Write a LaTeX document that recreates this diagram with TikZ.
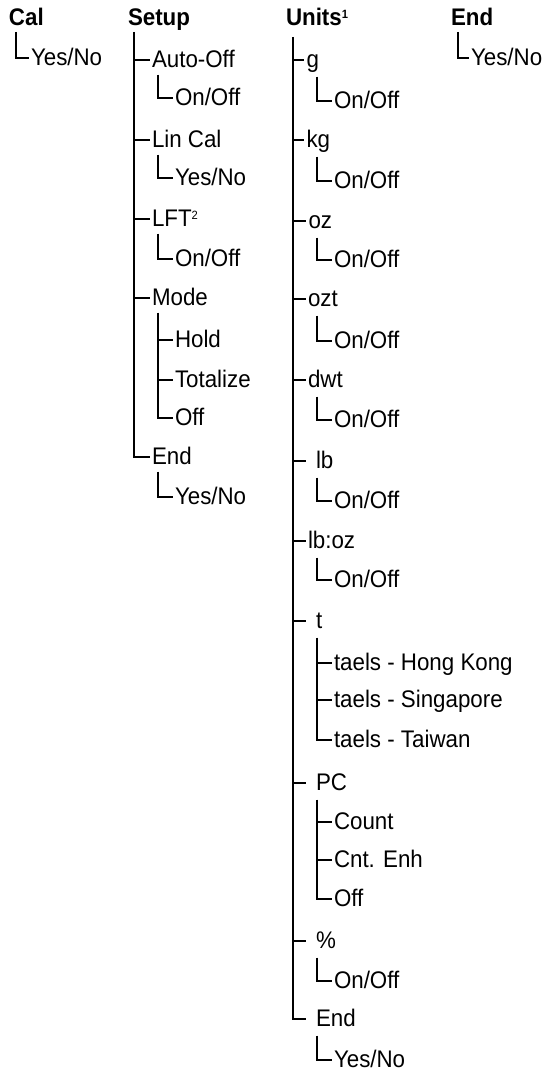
\documentclass[tikz,border=0pt]{standalone}
\usepackage{fontspec}
\setmainfont{Liberation Sans}[FakeStretch=0.93]
\usetikzlibrary{calc}
\newcommand{\supnum}[1]{\raisebox{7pt}{\fontsize{12}{12}\selectfont #1}}

\begin{document}
\begin{tikzpicture}[x=1pt, y=-1pt, line width=2pt,
    head/.style={anchor=base west, inner sep=0pt, font=\fontsize{24}{28}\selectfont\bfseries},
    item/.style={anchor=west, inner xsep=1.5pt, inner ysep=0pt,
        text height=16pt, text depth=1pt, font=\fontsize{24}{28}\selectfont},
    loose/.style={inner xsep=9pt}]
    \useasboundingbox (0,0) rectangle (548,1073);

    % headings
    \node[head] (cal) at (8,26) {Cal};
    \node[head] (setup) at (127,26) {Setup};
    \node[head] (units) at (285,26) {Units\supnum{1}};
    \node[head] (end) at (450,26) {End};

    % Cal
    \node[item] (calyn) at (28.5,58) {Yes/No};
    \draw (cal.base west) ++(8,6) |- (calyn.west);

    % Setup
    \coordinate (sbar) at (134,32);
    \coordinate (ssub) at (158,0);
    \node[item] (autooff) at (149.5,60) {Auto-Off};
    \node[item] (aoonoff) at (172.5,98) {On/Off};
    \node[item] (lincal) at (149.5,140) {Lin Cal};
    \node[item] (lcyn) at (172.5,178) {Yes/No};
    \node[item] (lft) at (149.5,219) {LFT\supnum{2}};
    \node[item] (lftonoff) at (172.5,259) {On/Off};
    \node[item] (mode) at (149.5,298) {Mode};
    \node[item] (hold) at (172.5,340) {Hold};
    \node[item] (totalize) at (172.5,380) {Totalize};
    \node[item] (modeoff) at (172.5,418) {Off};
    \node[item] (send) at (149.5,457) {End};
    \node[item] (sendyn) at (172.5,497) {Yes/No};

    \draw (sbar) |- (send.west);
    \foreach \n in {autooff,lincal,lft,mode}
        \draw (sbar |- \n.west) -- (\n.west);
    \foreach \p/\c in {autooff/aoonoff,lincal/lcyn,lft/lftonoff,mode/modeoff,send/sendyn}
        \draw (\p.base west -| ssub) ++(0,7) |- (\c.west);
    \foreach \n in {hold,totalize}
        \draw (ssub |- \n.west) -- (\n.west);

    % Units
    \coordinate (ubar) at (293,37);
    \coordinate (usub) at (317,0);
    \node[item] (g) at (304,60) {g};
    \node[item] (gonoff) at (331.5,101) {On/Off};
    \node[item] (kg) at (304,140) {kg};
    \node[item] (kgonoff) at (331.5,181) {On/Off};
    \node[item] (oz) at (306,221) {oz};
    \node[item] (ozonoff) at (331.5,260) {On/Off};
    \node[item] (ozt) at (305.5,299) {ozt};
    \node[item] (oztonoff) at (331.5,341) {On/Off};
    \node[item] (dwt) at (305.5,380) {dwt};
    \node[item] (dwtonoff) at (331.5,420) {On/Off};
    \node[item, loose] (lb) at (306,461) {lb};
    \node[item] (lbonoff) at (331.5,501) {On/Off};
    \node[item] (lboz) at (305.5,541) {lb:oz};
    \node[item] (lbozonoff) at (331.5,580) {On/Off};
    \node[item, loose] (t) at (306,621) {t};
    \node[item] (hk) at (331.5,663) {taels - Hong Kong};
    \node[item] (sg) at (331.5,700) {taels - Singapore};
    \node[item] (tw) at (331.5,740) {taels - Taiwan};
    \node[item, loose] (pc) at (306,783) {PC};
    \node[item] (count) at (331.5,822) {Count};
    \node[item] (cnt) at (331.5,860) {Cnt. Enh};
    \node[item] (pcoff) at (331.5,899) {Off};
    \node[item, loose] (pct) at (306,941) {\%};
    \node[item] (pctonoff) at (331.5,981) {On/Off};
    \node[item, loose] (uend) at (306,1019) {End};
    \node[item] (uendyn) at (331.5,1060) {Yes/No};

    \draw (ubar) |- (uend.west);
    \foreach \n in {g,kg,oz,ozt,dwt,lb,lboz,t,pc,pct}
        \draw (ubar |- \n.west) -- (\n.west);
    \foreach \p/\c in {g/gonoff,kg/kgonoff,oz/ozonoff,ozt/oztonoff,dwt/dwtonoff,
            lb/lbonoff,lboz/lbozonoff,t/tw,pc/pcoff,pct/pctonoff,uend/uendyn}
        \draw (\p.base west -| usub) ++(0,9) |- (\c.west);
    \foreach \n in {hk,sg,count,cnt}
        \draw (usub |- \n.west) -- (\n.west);

    % End
    \node[item] (endyn) at (468.5,58) {Yes/No};
    \draw (end.base west) ++(8,6) |- (endyn.west);
\end{tikzpicture}
\end{document}
